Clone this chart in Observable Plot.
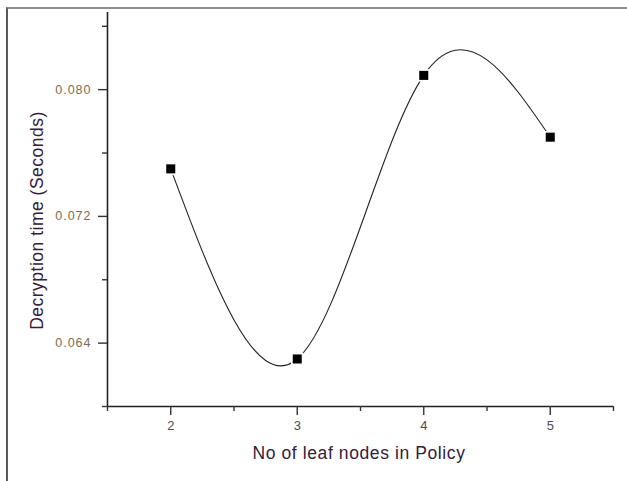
<!DOCTYPE html>
<html>
<head>
<meta charset="utf-8">
<script src="https://cdn.jsdelivr.net/npm/d3@7"></script>
<script src="https://cdn.jsdelivr.net/npm/@observablehq/plot@0.6"></script>
<style>
  html, body { margin: 0; padding: 0; background: #fff; }
  #wrap { position: relative; width: 627px; height: 481px; overflow: hidden; }
  #frame { position: absolute; left: 6px; top: 7px; right: 0; bottom: -4px;
           border-top: 2px solid #8c8c8c; border-left: 2px solid #5a5a5a; }
  #chart { position: absolute; left: 0; top: 0; }
</style>
</head>
<body>
<div id="wrap"><div id="frame"></div><div id="chart"></div></div>
<script>
const leafNodes = [2, 3, 4, 5];
const decryptTime = [0.0750, 0.0630, 0.0809, 0.0770];
const xMajorTicks = [2, 3, 4, 5];
const xMinorTicks = [1.5, 2.5, 3.5, 4.5, 5.5];
const yMajorTicks = [0.064, 0.072, 0.080];
const yMinorTicks = [0.060, 0.068, 0.076, 0.084];
const xTitle = "No of leaf nodes in Policy";
const yTitle = "Decryption time (Seconds)";

const data = leafNodes.map((x, i) => ({x, y: decryptTime[i]}));
const font = "Liberation Sans, Arial, sans-serif";
const yFmt = d3.format(".3f");

const chart = Plot.plot({
  width: 627,
  height: 481,
  marginLeft: 107,
  marginRight: 14,
  marginTop: 12,
  marginBottom: 75,
  style: {fontFamily: font, background: "transparent", overflow: "visible"},
  x: {domain: [1.5, 5.5], axis: null},
  y: {domain: [0.060, 0.08487], axis: null},
  marks: [
    Plot.ruleX([1.5], {stroke: "#222", strokeWidth: 1.6}),
    Plot.ruleY([0.060], {stroke: "#222", strokeWidth: 1.6}),
    Plot.axisY(yMajorTicks, {anchor: "left", tickSize: 9, tickPadding: 7, tickFormat: yFmt,
      fontSize: 12.5, fill: "#7d6b4f", stroke: "#333", strokeWidth: 1.4, label: null}),
    Plot.axisY(yMinorTicks, {anchor: "left", tickSize: 5, tickFormat: () => "", stroke: "#333", strokeWidth: 1.4, label: null}),
    Plot.axisX(xMajorTicks, {anchor: "bottom", tickSize: 9, tickPadding: 5, tickFormat: d3.format("d"),
      fontSize: 13, fill: "#4d4a55", stroke: "#333", strokeWidth: 1.4, label: null}),
    Plot.axisX(xMinorTicks, {anchor: "bottom", tickSize: 5, tickFormat: () => "", stroke: "#333", strokeWidth: 1.4, label: null}),
    Plot.line(data, {x: "x", y: "y", curve: "natural", stroke: "#222", strokeWidth: 1.1}),
    Plot.dot(data, {x: "x", y: "y", symbol: "square", r: 7, fill: "#fff", stroke: "none"}),
    Plot.dot(data, {x: "x", y: "y", symbol: "square", r: 5.1, fill: "#000", stroke: "none"}),
    Plot.text([yTitle], {frameAnchor: "left", dx: -70, dy: 11, rotate: -90, fontSize: 17.5,
      fill: "#33203a", textAnchor: "middle", lineAnchor: "middle"}),
    Plot.text([xTitle], {frameAnchor: "bottom", dx: -1.5, dy: 47, fontSize: 17.5,
      fill: "#33203a", textAnchor: "middle", lineAnchor: "middle"})
  ]
});
const yLabels = new Set(yMajorTicks.map(yFmt));
d3.select(chart).selectAll("text").each(function() {
  const t = this.textContent;
  if (t === yTitle) this.setAttribute("letter-spacing", "0.5px");
  else if (t === xTitle) this.setAttribute("letter-spacing", "0.6px");
  else if (yLabels.has(t)) this.setAttribute("letter-spacing", "1px");
});
document.getElementById("chart").appendChild(chart);
</script>
</body>
</html>
